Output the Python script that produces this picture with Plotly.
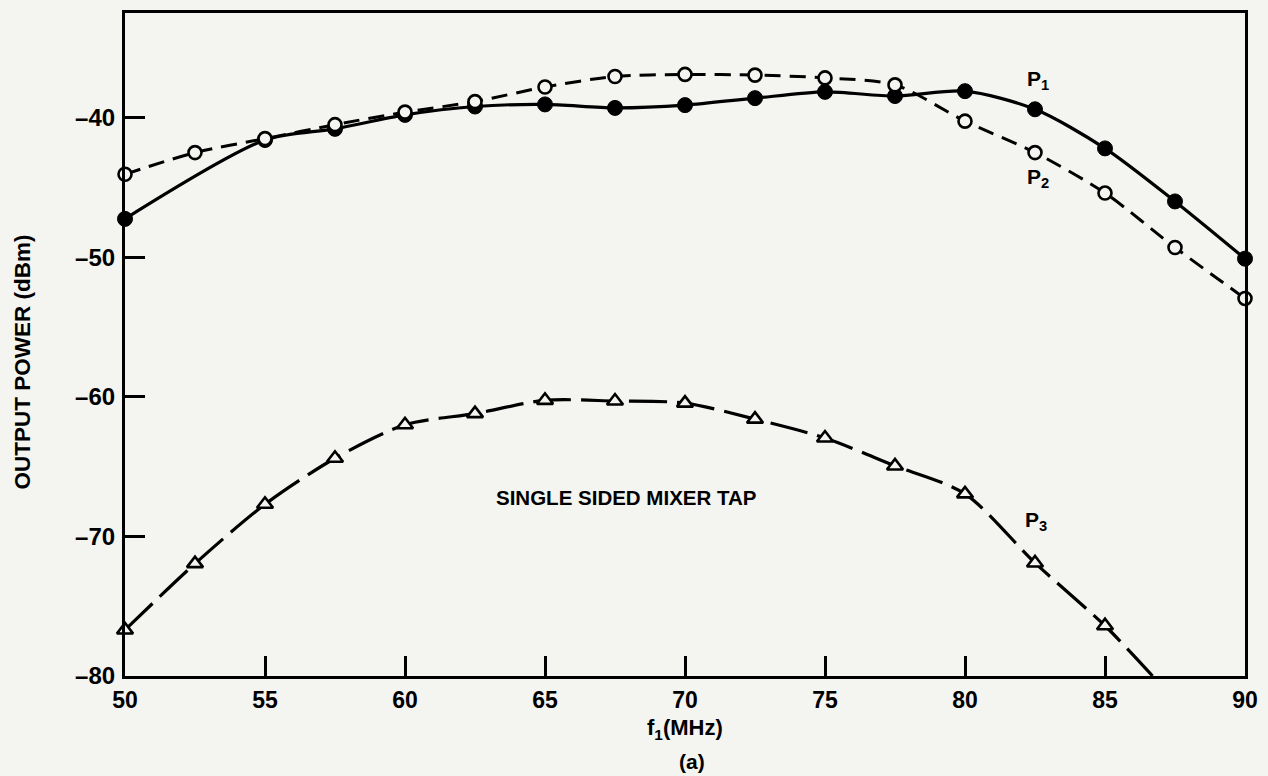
import plotly.graph_objects as go

# Data
p1_x = [50, 55, 57.5, 60, 62.5, 65, 67.5, 70, 72.5, 75, 77.5, 80, 82.5, 85, 87.5, 90]
p1_y = [-47.25, -41.6, -40.8, -39.8, -39.2, -39.05, -39.3, -39.1, -38.6, -38.15, -38.45, -38.1, -39.4, -42.2, -46.0, -50.1]

p2_x = [50, 52.5, 55, 57.5, 60, 62.5, 65, 67.5, 70, 72.5, 75, 77.5, 80, 82.5, 85, 87.5, 90]
p2_y = [-44.05, -42.5, -41.5, -40.5, -39.6, -38.85, -37.8, -37.05, -36.9, -36.95, -37.15, -37.65, -40.25, -42.5, -45.4, -49.3, -52.95]

p3_x = [50, 52.5, 55, 57.5, 60, 62.5, 65, 67.5, 70, 72.5, 75, 77.5, 80, 82.5, 85]
p3_y = [-76.7, -71.95, -67.7, -64.4, -62.0, -61.2, -60.25, -60.3, -60.45, -61.6, -62.95, -64.95, -66.95, -71.9, -76.4]
# curve continuation of P3 down to the axis
p3_curve_x = p3_x + [86.7]
p3_curve_y = p3_y + [-80.0]

x_ticks = [50, 55, 60, 65, 70, 75, 80, 85, 90]
y_ticks = [-80, -70, -60, -50, -40]
y_tick_text = ["\u201380", "\u201370", "\u201360", "\u201350", "\u201340"]

BG = "#f4f4f1"
FONT = "Liberation Sans"

# plot-area geometry in pixels (for paper-referenced titles)
L, R, T, B = 125, 1246, 10, 676
PW, PH = R - L, B - T

fig = go.Figure()

# P2 dashed
fig.add_trace(go.Scatter(
    x=p2_x, y=p2_y, mode="lines",
    line=dict(color="black", width=3, dash="16px,9px", shape="spline", smoothing=0.8),
    showlegend=False, hoverinfo="skip"))
# P1 solid
fig.add_trace(go.Scatter(
    x=p1_x, y=p1_y, mode="lines",
    line=dict(color="black", width=3.2, shape="spline", smoothing=0.8),
    showlegend=False, hoverinfo="skip"))
# P3 long dashed
fig.add_trace(go.Scatter(
    x=p3_curve_x, y=p3_curve_y, mode="lines",
    line=dict(color="black", width=3.2, dash="38px,10px", shape="spline", smoothing=0.8),
    showlegend=False, hoverinfo="skip"))

# markers
fig.add_trace(go.Scatter(
    x=p1_x, y=p1_y, mode="markers",
    marker=dict(symbol="circle", size=15, color="black", line=dict(color="black", width=1)),
    showlegend=False, cliponaxis=False))
fig.add_trace(go.Scatter(
    x=p2_x, y=p2_y, mode="markers",
    marker=dict(symbol="circle", size=13, color=BG, line=dict(color="black", width=2.6)),
    showlegend=False, cliponaxis=False))
fig.add_trace(go.Scatter(
    x=p3_x, y=p3_y, mode="markers",
    marker=dict(symbol="triangle-up", size=14, color=BG, line=dict(color="black", width=2.6)),
    showlegend=False, cliponaxis=False))

fig.update_xaxes(
    range=[50, 90], tickvals=x_ticks, ticktext=[str(v) for v in x_ticks],
    showgrid=False, zeroline=False, showline=True, linecolor="black", linewidth=3.2,
    mirror=True, ticks="inside", ticklen=20, tickwidth=3, tickcolor="black",
    tickfont=dict(family=FONT, size=23, color="black", weight="bold"), ticklabelstandoff=1)
fig.update_yaxes(
    range=[-80, -32.5], tickvals=y_ticks, ticktext=y_tick_text,
    showgrid=False, zeroline=False, showline=True, linecolor="black", linewidth=3.2,
    mirror=True, ticks="inside", ticklen=20, tickwidth=3, tickcolor="black",
    tickfont=dict(family=FONT, size=24, color="black", weight="bold"), ticklabelstandoff=2)

ann_font = dict(family=FONT, size=21, color="black", weight="bold")
fig.add_annotation(x=82.6, y=-37.3, text="P<sub>1</sub>", showarrow=False, font=ann_font)
fig.add_annotation(x=82.6, y=-44.3, text="P<sub>2</sub>", showarrow=False, font=ann_font)
fig.add_annotation(x=82.55, y=-68.9, text="P<sub>3</sub>", showarrow=False, font=ann_font)
fig.add_annotation(x=67.9, y=-67.2, text="SINGLE SIDED MIXER TAP", showarrow=False,
                   font=dict(family=FONT, size=20.5, color="black", weight="bold"))

# axis titles
fig.add_annotation(xref="paper", yref="paper", x=(685 - L) / PW, y=-(729 - B) / PH,
                   xanchor="center", yanchor="middle",
                   text="f<sub>1</sub>(MHz)", showarrow=False,
                   font=dict(family=FONT, size=22, color="black", weight="bold"))
fig.add_annotation(xref="paper", yref="paper", x=(693 - L) / PW, y=-(762 - B) / PH,
                   xanchor="center", yanchor="middle",
                   text="(a)", showarrow=False,
                   font=dict(family=FONT, size=21, color="black", weight="bold"))
fig.add_annotation(xref="paper", yref="paper", x=-(L - 22) / PW, y=(B - 361) / PH,
                   xanchor="center", yanchor="middle",
                   text="OUTPUT POWER (dBm)", textangle=-90, showarrow=False,
                   font=dict(family=FONT, size=22.5, color="black", weight="bold"))

fig.update_layout(
    width=1268, height=776,
    margin=dict(l=L, r=1268 - R, t=T, b=776 - B),
    paper_bgcolor=BG, plot_bgcolor=BG,
    showlegend=False)

fig.write_html("out.html")
